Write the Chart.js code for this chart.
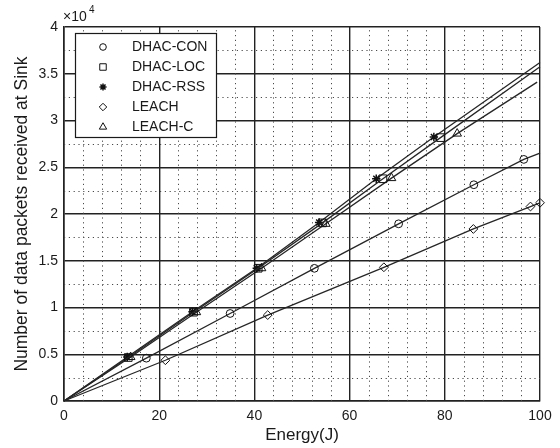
<!DOCTYPE html>
<html>
<head>
<meta charset="utf-8">
<script src="https://cdn.jsdelivr.net/npm/chart.js@4.4.1/dist/chart.umd.min.js"></script>
<style>
  html, body { margin: 0; padding: 0; background: #fff; }
  #wrap { width: 560px; height: 448px; }
</style>
</head>
<body>
<div id="wrap"><canvas id="c" width="560" height="448"></canvas></div>
<script>
// Energy spent (J) and data packets received at the sink for each protocol
const conEnergy     = [0, 17.3, 34.9, 52.6, 70.3, 86.1, 96.6, 100];
const conPackets    = [0, 4580, 9360, 14190, 18950, 23130, 25840, 26500];
const locEnergy     = [0, 13.5, 27.2, 40.8, 54.3, 67.0, 79.1, 100];
const locPackets    = [0, 4650, 9500, 14200, 19050, 23770, 28170, 35750];
const rssEnergy     = [0, 13.3, 27.0, 40.5, 53.6, 65.6, 77.7, 100];
const rssPackets    = [0, 4700, 9550, 14200, 19100, 23770, 28240, 36200];
const leachEnergy   = [0, 21.3, 42.8, 67.2, 86.0, 98.0, 100];
const leachPackets  = [0, 4360, 9190, 14300, 18400, 20800, 21200];
const leachCEnergy  = [0, 14.0, 27.8, 41.5, 55.0, 68.8, 82.6, 99.4];
const leachCPackets = [0, 4700, 9500, 14200, 18950, 23840, 28600, 34100];

const seriesNames = ['DHAC-CON', 'DHAC-LOC', 'DHAC-RSS', 'LEACH', 'LEACH-C'];

// Axis ticks (x in J, y in units of 10^4 packets)
const xTickValues = [0, 20, 40, 60, 80, 100];
const yTickLabels = ['0', '0.5', '1', '1.5', '2', '2.5', '3', '3.5', '4'];
const yScaleFactor = 10000;

const FONT = "'Liberation Sans', Arial, Helvetica, sans-serif";
const INK = '#1a1a1a';

function points(xs, ys) {
  return xs.map((x, i) => ({ x: x, y: ys[i] }));
}

// Marker look of each series
const styles = [
  { pointStyle: 'circle',   radius: 3.9, width: 1,   markLast: false },
  { pointStyle: 'rect',     radius: 5.4, width: 1,   markLast: false },
  { pointStyle: 'star',     radius: 4.2, width: 1.5, markLast: false },
  { pointStyle: 'rectRot',  radius: 4.4, width: 1,   markLast: true  },
  { pointStyle: 'triangle', radius: 5.0, width: 1,   markLast: false }
];

const seriesData = [
  points(conEnergy, conPackets),
  points(locEnergy, locPackets),
  points(rssEnergy, rssPackets),
  points(leachEnergy, leachPackets),
  points(leachCEnergy, leachCPackets)
];

const datasets = seriesNames.map((name, k) => {
  const st = styles[k];
  return {
    label: name,
    data: seriesData[k],
    showLine: true,
    borderColor: '#262626',
    borderWidth: 1.3,
    backgroundColor: 'rgba(0,0,0,0)',
    pointStyle: st.pointStyle,
    pointBorderColor: '#111',
    pointBackgroundColor: 'rgba(255,255,255,0)',
    pointBorderWidth: st.width,
    pointRadius: (ctx) => {
      const n = ctx.dataset.data.length;
      if (ctx.dataIndex === 0) return 0;
      if (ctx.dataIndex === n - 1 && !st.markLast) return 0;
      return st.radius;
    },
    pointHoverRadius: 0,
    tension: 0,
    clip: false
  };
});

// Dotted minor grid between the solid major lines
const minorGrid = {
  id: 'minorGrid',
  beforeDatasetsDraw(chart) {
    const { ctx, chartArea: a, scales: { x, y } } = chart;
    ctx.save();
    ctx.beginPath();
    ctx.rect(a.left, a.top, a.right - a.left, a.bottom - a.top);
    ctx.clip();
    ctx.strokeStyle = '#4a4a4a';
    ctx.lineWidth = 1;
    ctx.setLineDash([1.2, 3.6]);
    for (let v = 4; v < 100; v += 4) {
      if (v % 20 === 0) continue;
      const px = Math.round(x.getPixelForValue(v)) + 0.5;
      ctx.beginPath();
      ctx.moveTo(px, a.bottom);
      ctx.lineTo(px, a.top);
      ctx.stroke();
    }
    for (let v = 2500; v < 40000; v += 5000) {
      const py = Math.round(y.getPixelForValue(v)) + 0.5;
      ctx.beginPath();
      ctx.moveTo(a.left, py);
      ctx.lineTo(a.right, py);
      ctx.stroke();
    }
    ctx.restore();
  }
};

// Boxed legend in the upper-left corner, plus the axis multiplier
const boxLegend = {
  id: 'boxLegend',
  afterDraw(chart) {
    const { ctx } = chart;
    const bx = 75, by = 33, bw = 141, bh = 104;
    ctx.save();
    ctx.fillStyle = '#fff';
    ctx.fillRect(bx, by, bw, bh);
    ctx.strokeStyle = INK;
    ctx.lineWidth = 1.2;
    ctx.strokeRect(bx + 0.5, by + 0.5, bw, bh);

    ctx.font = '14px ' + FONT;
    ctx.textBaseline = 'middle';
    ctx.textAlign = 'left';
    chart.data.datasets.forEach((ds, i) => {
      const cy = 47 + i * 20;
      const st = styles[i];
      ctx.strokeStyle = '#111';
      ctx.fillStyle = 'rgba(255,255,255,0)';
      ctx.lineWidth = st.width;
      if (Chart.helpers && Chart.helpers.drawPoint) {
        Chart.helpers.drawPoint(ctx, {
          pointStyle: st.pointStyle, rotation: 0,
          radius: st.radius * 0.85, borderWidth: st.width
        }, 103, cy);
      }
      ctx.fillStyle = INK;
      ctx.fillText(ds.label, 132, cy + 0.5);
    });

    // multiplier of the y values
    ctx.fillStyle = INK;
    ctx.textBaseline = 'middle';
    ctx.font = '14px ' + FONT;
    ctx.fillText('\u00d710', 63, 17);
    ctx.font = '10px ' + FONT;
    ctx.fillText('4', 89, 10);
    ctx.restore();
  }
};

new Chart(document.getElementById('c'), {
  type: 'scatter',
  data: { datasets: datasets },
  options: {
    responsive: false,
    animation: false,
    events: [],
    layout: { padding: { left: 0, right: 20, top: 27, bottom: 0 } },
    plugins: { legend: { display: false }, tooltip: { enabled: false } },
    scales: {
      x: {
        type: 'linear',
        min: 0, max: 100,
        afterBuildTicks: (scale) => { scale.ticks = xTickValues.map(v => ({ value: v })); },
        afterFit: (scale) => { scale.height = 47; },
        ticks: {
          color: INK, font: { family: FONT, size: 14 }, padding: 7,
          maxRotation: 0, autoSkip: false,
          callback: (v) => String(v)
        },
        grid: { color: '#222', lineWidth: 1.4, drawTicks: false },
        border: { color: '#222', width: 1.6 },
        title: {
          display: true, text: 'Energy(J)', color: INK,
          font: { family: FONT, size: 17 }, padding: { top: 0, bottom: 2 }
        }
      },
      y: {
        type: 'linear',
        min: 0, max: 40000,
        afterBuildTicks: (scale) => {
          scale.ticks = yTickLabels.map((_, i) => ({ value: i * yScaleFactor / 2 }));
        },
        afterFit: (scale) => { scale.width = 64; },
        ticks: {
          color: INK, font: { family: FONT, size: 14 }, padding: 6, autoSkip: false,
          callback: (v) => yTickLabels[Math.round(v / (yScaleFactor / 2))]
        },
        grid: { color: '#222', lineWidth: 1.4, drawTicks: false },
        border: { color: '#222', width: 1.6 },
        title: {
          display: true, text: 'Number of data packets received at Sink', color: INK,
          font: { family: FONT, size: 17.5 }, padding: { top: 12, bottom: 0 }
        }
      }
    }
  },
  plugins: [minorGrid, boxLegend]
});
</script>
</body>
</html>
